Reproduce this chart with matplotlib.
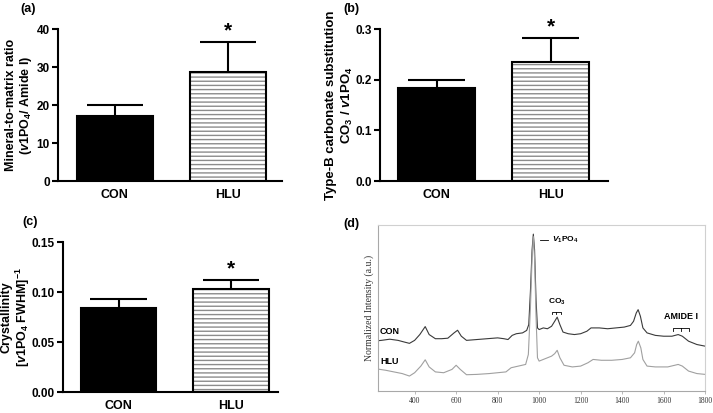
import matplotlib
matplotlib.use("Agg")
import matplotlib.pyplot as plt

plt.rcParams['font.family'] = 'Liberation Sans'
plt.rcParams['font.weight'] = 'bold'
plt.rcParams['mathtext.fontset'] = 'custom'
plt.rcParams['mathtext.rm'] = 'Liberation Sans:bold'
plt.rcParams['mathtext.it'] = 'Liberation Sans:italic:bold'
plt.rcParams['mathtext.bf'] = 'Liberation Sans:bold'
plt.rcParams['hatch.linewidth'] = 1.0

grupos = ["CON", "HLU"]

# (a) mineral/matriz
ratio_media = [17.0, 28.7]
ratio_err = [3.1, 7.8]
# (b) carbonato tipo B
carb_media = [0.184, 0.234]
carb_err = [0.016, 0.048]
# (c) cristalinidad
crist_media = [0.084, 0.103]
crist_err = [0.009, 0.0095]

# (d) espectro Raman
raman_x_con = [223, 240, 280, 320, 350, 375, 400, 425, 451, 470, 500, 530, 560, 590, 607, 625, 650, 700,
               750, 800, 830, 850, 870, 890, 920, 940, 950, 958, 966, 972, 978, 985, 992, 1000, 1020,
               1040, 1060, 1075, 1087, 1100, 1115, 1140, 1170, 1200, 1230, 1250, 1290, 1330, 1370,
               1410, 1440, 1455, 1468, 1477, 1488, 1500, 1520, 1560, 1600, 1640, 1670, 1690, 1720,
               1760, 1800]
raman_con = [30.3, 30.5, 31.2, 30.5, 29.5, 28.7, 30.5, 34.0, 38.8, 34.0, 31.5, 31.5, 31.8, 35.0, 36.6,
             33.0, 30.5, 31.0, 31.5, 32.0, 31.5, 31.0, 33.5, 34.5, 35.0, 36.5, 40.0, 60.0, 85.0, 94.5,
             85.0, 55.0, 38.0, 37.0, 38.0, 37.5, 39.0, 42.0, 44.5, 40.0, 35.5, 34.5, 34.0, 34.5, 36.0,
             38.0, 38.0, 37.5, 38.0, 38.5, 39.5, 42.0, 47.0, 49.0, 45.0, 38.0, 35.0, 33.5, 33.0, 33.0,
             34.0, 33.0, 30.0, 28.0, 27.0]
raman_x_hlu = [223, 260, 300, 340, 375, 400, 430, 451, 470, 500, 540, 580, 600, 620, 650, 700, 760, 800,
               840, 865, 900, 935, 948, 958, 966, 972, 978, 985, 992, 1000, 1020, 1040, 1060, 1075,
               1087, 1100, 1120, 1160, 1200, 1235, 1260, 1300, 1350, 1400, 1440, 1460, 1470, 1478,
               1490, 1500, 1520, 1560, 1620, 1670, 1690, 1720, 1760, 1800]
raman_hlu = [13.2, 12.5, 11.5, 10.5, 9.0, 11.0, 15.0, 18.8, 14.5, 11.5, 11.0, 13.0, 15.5, 13.0, 9.8,
             10.0, 10.5, 11.0, 11.5, 14.0, 15.0, 16.0, 22.0, 50.0, 80.0, 93.0, 80.0, 45.0, 20.0, 18.0,
             19.0, 20.0, 21.0, 22.5, 24.5, 20.0, 15.5, 14.5, 15.0, 17.0, 19.0, 18.5, 18.5, 19.0, 20.0,
             23.0, 28.0, 30.0, 26.0, 19.0, 15.0, 14.5, 14.5, 16.0, 15.0, 12.0, 10.5, 10.0]


def barras(ax, medias, errores, ticks, fmt, xlim, ylabel, label_x, label_size=9):
    pos = [0, 1]
    ax.bar(pos[0], medias[0], width=0.67, color="black", edgecolor="black", linewidth=1.5, zorder=2)
    ax.bar(pos[1], medias[1], width=0.67, color="white", edgecolor="#8c8c8c", hatch="----",
           linewidth=0, zorder=2)
    ax.bar(pos[1], medias[1], width=0.67, fill=False, edgecolor="black", linewidth=1.5, zorder=3)
    for p, m, e in zip(pos, medias, errores):
        ax.vlines(p, m, m + e, color="black", linewidth=1.5, zorder=1)
        ax.hlines(m + e, p - 0.25, p + 0.25, color="black", linewidth=1.5, zorder=1)
    ax.text(pos[1], medias[1] + errores[1] + (ticks[-1] * 0.01), "*", ha="center", va="bottom",
            fontsize=15, fontweight="bold")
    ax.set_xlim(*xlim)
    ax.set_ylim(0, ticks[-1])
    ax.set_yticks(ticks)
    ax.set_yticklabels([fmt.format(t) for t in ticks])
    ax.set_xticks(pos)
    ax.set_xticklabels(grupos)
    ax.spines["top"].set_visible(False)
    ax.spines["right"].set_visible(False)
    ax.spines["left"].set_linewidth(1.5)
    ax.spines["bottom"].set_linewidth(1.5)
    ax.tick_params(axis="y", length=4, width=1.5, labelsize=8.5, pad=2)
    ax.tick_params(axis="x", length=0, labelsize=9, pad=6)
    for t in ax.get_yticklabels() + ax.get_xticklabels():
        t.set_fontweight("bold")
    ax.set_ylabel(ylabel, fontsize=label_size, fontweight="bold", linespacing=1.15)
    ax.yaxis.set_label_coords(label_x, 0.5)


fig = plt.figure(figsize=(7.13, 4.13), dpi=100)

ax_a = fig.add_axes([0.0813, 0.5617, 0.3142, 0.368])
barras(ax_a, ratio_media, ratio_err, [0, 10, 20, 30, 40], "{:g}", (-0.504, 1.478),
       "Mineral-to-matrix ratio\n($\\mathit{v}$1PO$_{4}$/ Amide I)", -0.105)

ax_b = fig.add_axes([0.533, 0.5617, 0.3197, 0.368])
barras(ax_b, carb_media, carb_err, [0.0, 0.1, 0.2, 0.3], "{:.1f}", (-0.496, 1.504),
       "Type-B carbonate substitution", -0.188, 9.5)
# segunda linea del titulo del eje (b)
ax_b.text(-0.11, 0.5, "CO$_{3}$ / $\\mathit{v}$1PO$_{4}$", transform=ax_b.transAxes, rotation=90,
          ha="right", va="center", fontsize=9.5, fontweight="bold")

ax_c = fig.add_axes([0.0884, 0.0508, 0.3016, 0.3632])
barras(ax_c, crist_media, crist_err, [0.00, 0.05, 0.10, 0.15], "{:.2f}", (-0.493, 1.418),
       "Crystallinity\n[$\\mathit{v}$1PO$_{4}$ FWHM]$^{-1}$", -0.142)

ax_d = fig.add_axes([0.530, 0.0533, 0.459, 0.4019])
ax_d.plot(raman_x_con, raman_con, color="#3a3a3a", linewidth=0.8)
ax_d.plot(raman_x_hlu, raman_hlu, color="#a0a0a0", linewidth=0.8)
ax_d.set_xlim(223, 1800)
ax_d.set_ylim(0, 100)
ax_d.set_xticks([400, 600, 800, 1000, 1200, 1400, 1600, 1800])
ax_d.set_yticks([])
for t in ax_d.get_xticklabels():
    t.set_fontfamily("Liberation Serif")
    t.set_fontweight("normal")
ax_d.tick_params(axis="x", labelsize=5.5, length=2, width=0.6, color="#b0b0b0", pad=2, labelcolor="#333333")
for lado in ["left", "bottom"]:
    ax_d.spines[lado].set_color("#a8a8a8")
    ax_d.spines[lado].set_linewidth(0.8)
for lado in ["top", "right"]:
    ax_d.spines[lado].set_color("#d0d0d0")
    ax_d.spines[lado].set_linewidth(0.8)
ax_d.set_ylabel("Normalized Intensity (a.u.)", fontfamily="Liberation Serif", fontweight="normal",
                fontsize=7, color="#333333")
ax_d.yaxis.set_label_coords(-0.012, 0.5)
ax_d.text(233, 35.7, "CON", fontsize=6.5, fontweight="bold", va="center")
ax_d.text(233, 17.7, "HLU", fontsize=6.5, fontweight="bold", va="center")
ax_d.plot([1003, 1043], [91, 91], color="black", linewidth=0.6)
ax_d.text(1060, 91, "$\\mathit{V}_{1}$PO$_{4}$", fontsize=6, va="center")
ax_d.text(1084, 50.5, "CO$_{3}$", fontsize=6, ha="center", va="bottom")
ax_d.plot([1060, 1060, 1103, 1103], [46.3, 47.8, 47.8, 46.3], color="black", linewidth=0.6)
ax_d.plot([1081, 1081], [46.3, 47.8], color="black", linewidth=0.6)
ax_d.text(1684, 42, "AMIDE I", fontsize=6.5, ha="center", va="bottom")
ax_d.plot([1647, 1647, 1720, 1720], [36.3, 37.8, 37.8, 36.3], color="black", linewidth=0.6)
ax_d.plot([1683, 1683], [36.3, 37.8], color="black", linewidth=0.6)

fig.text(0.028, 0.978, "(a)", fontsize=9, fontweight="bold", va="center")
fig.text(0.482, 0.978, "(b)", fontsize=9, fontweight="bold", va="center")
fig.text(0.031, 0.4625, "(c)", fontsize=9, fontweight="bold", va="center")
fig.text(0.481, 0.4575, "(d)", fontsize=9, fontweight="bold", va="center")

fig.savefig("out.png", dpi=100)
